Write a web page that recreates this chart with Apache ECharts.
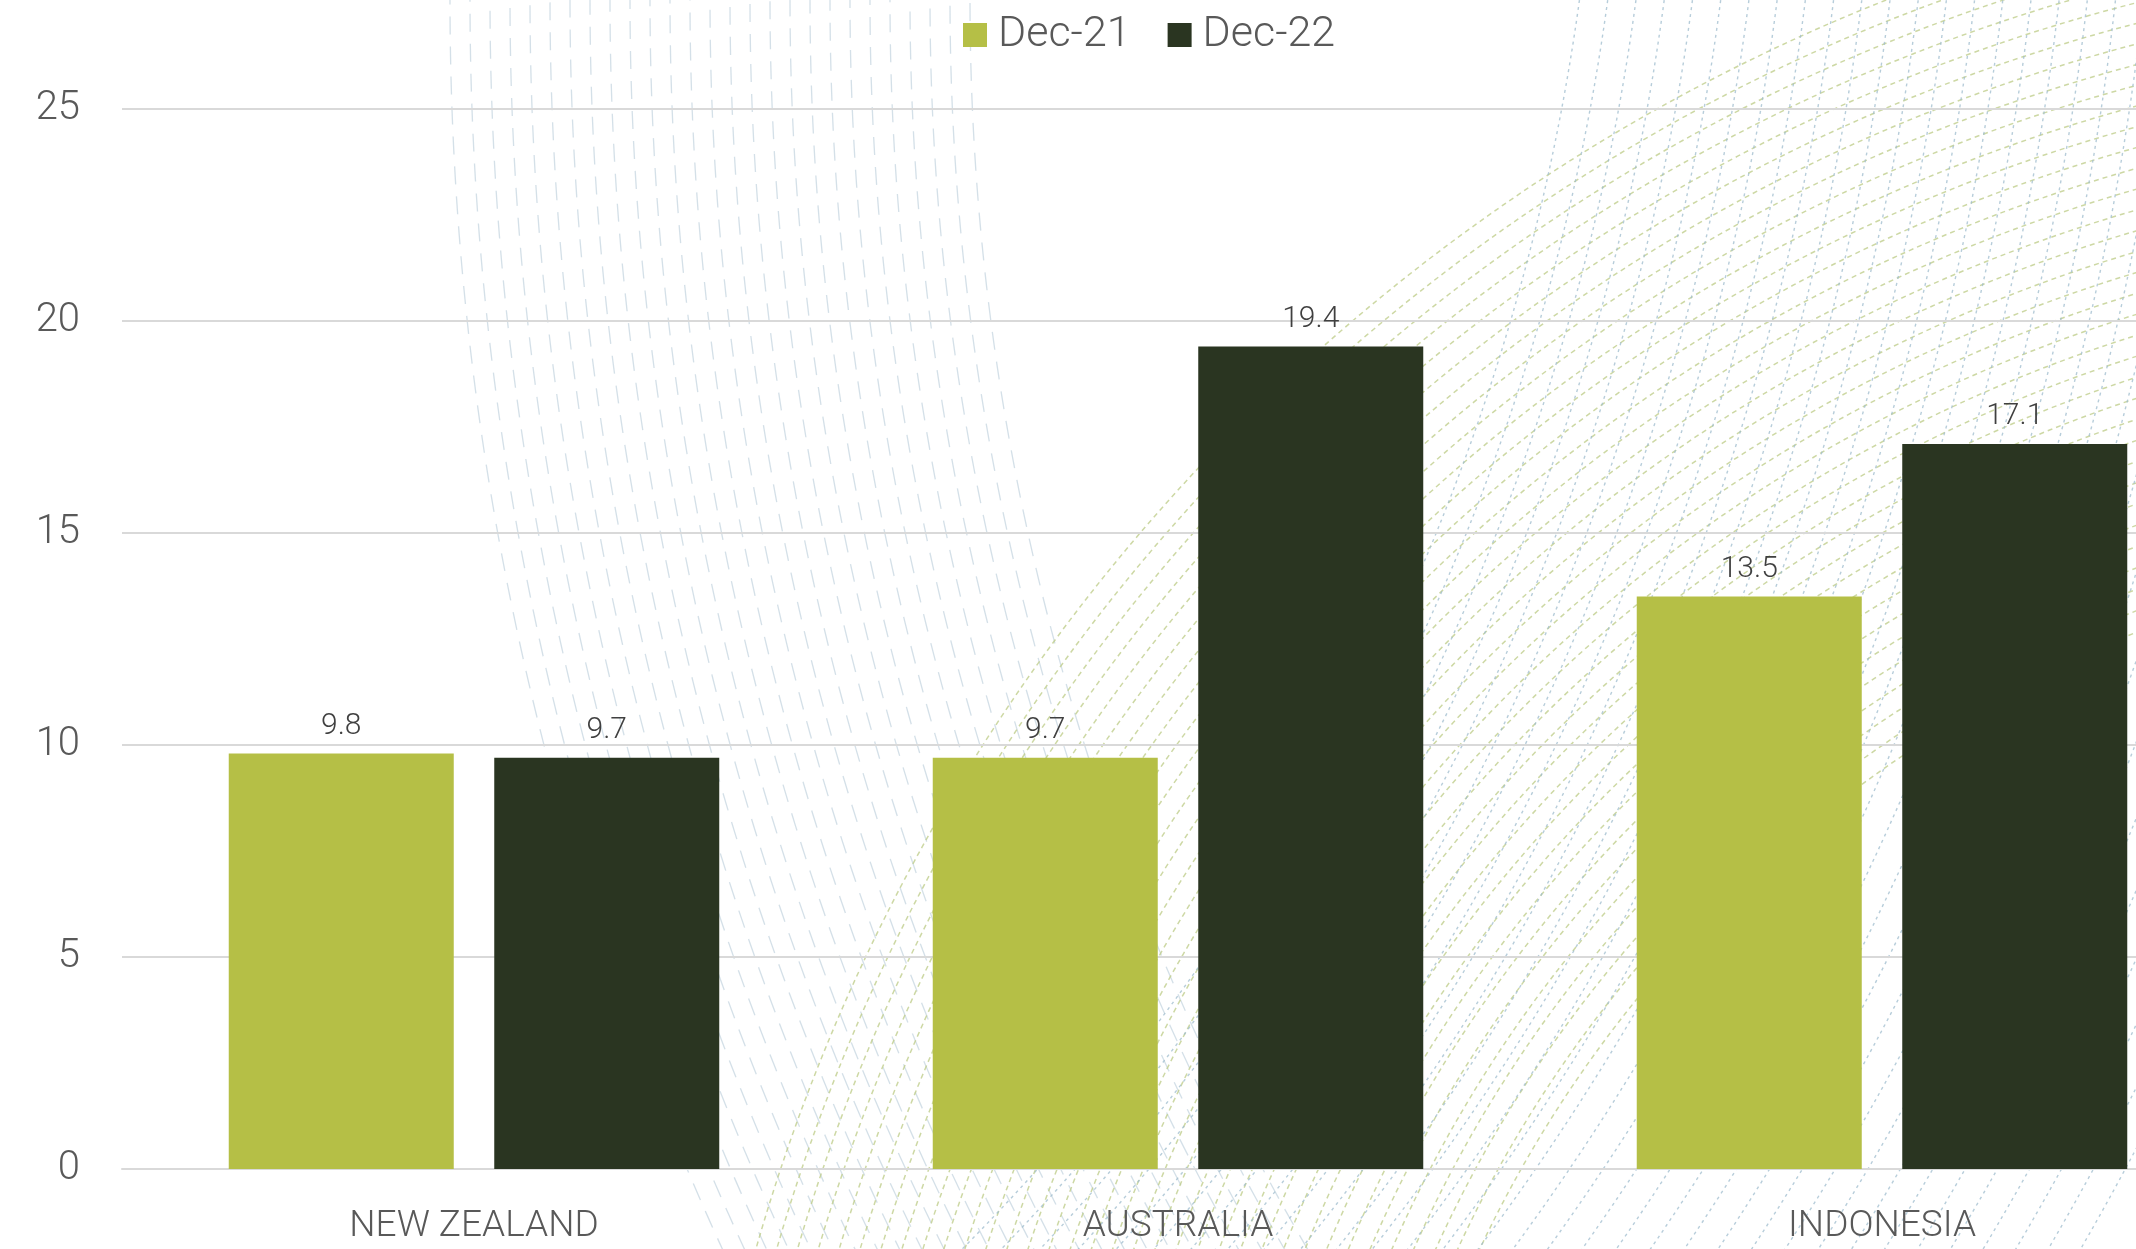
<!DOCTYPE html>
<html>
<head>
<meta charset="utf-8">
<script src="https://cdn.jsdelivr.net/npm/echarts@6/dist/echarts.min.js"></script>
<style>
html,body{margin:0;padding:0;background:#fff;overflow:hidden;width:2136px;height:1249px;}
#chart{width:2234px;height:1249px;}
</style>
</head>
<body>
<div id="chart"></div>
<script>
// ---- data ----
const categories = ['NEW ZEALAND', 'AUSTRALIA', 'INDONESIA'];
const seriesNames = ['Dec-21', 'Dec-22'];
const dec21 = [9.8, 9.7, 13.5];
const dec22 = [9.7, 19.4, 17.1];
const yMin = 0, yMax = 25, yStep = 5;

// ---- styling ----
const FONT = 'Roboto, "Liberation Sans", sans-serif';
const colors = ['#b5bf46', '#2a3521'];

// ---- decorative background (concentric dashed arcs) ----
function arcFamily(cx, cy, r0, r1, step, stroke, dash, opacity, width) {
  const out = [];
  for (let r = r0; r <= r1; r += step) {
    out.push({
      type: 'circle', silent: true,
      shape: { cx: cx, cy: cy, r: r },
      style: { fill: null, stroke: stroke, lineWidth: width, lineDash: dash, opacity: opacity }
    });
  }
  return out;
}
const deco = []
  .concat(arcFamily(3450, 0, 2480, 3000, 20, '#a9c2d1', [18, 12], 0.5, 1.3))
  .concat(arcFamily(2588, 1771, 1225, 1907, 20, '#bccb85', [5, 4], 0.75, 1.5))
  .concat(arcFamily(-600, -300, 2200, 3100, 28, '#9fbccd', [3, 4], 0.75, 1.4));

const chart = echarts.init(document.getElementById('chart'), null, { renderer: 'canvas' });
chart.setOption({
  backgroundColor: '#ffffff',
  animation: false,
  graphic: [{ type: 'group', silent: true, z: -10, zlevel: 0, children: deco }],
  legend: {
    data: seriesNames,
    left: 963, top: 12, padding: 0,
    itemWidth: 24, itemHeight: 24, itemGap: 37,
    icon: 'rect',
    textStyle: { fontFamily: FONT, fontWeight: 300, fontSize: 43, color: '#595959', padding: [0, 0, 0, 6], lineHeight: 46 }
  },
  grid: { left: 122, top: 109, right: 0, bottom: 80, containLabel: false },
  xAxis: {
    type: 'category',
    data: categories,
    axisLine: { show: true, lineStyle: { color: '#d9d9d9', width: 2 } },
    axisTick: { show: false },
    axisLabel: { fontFamily: FONT, fontWeight: 300, fontSize: 37, color: '#595959', margin: 39 }
  },
  yAxis: {
    type: 'value',
    min: yMin, max: yMax, interval: yStep,
    axisLine: { show: false },
    axisTick: { show: false },
    splitLine: { lineStyle: { color: '#d9d9d9', width: 2 } },
    axisLabel: { fontFamily: FONT, fontWeight: 300, fontSize: 40, color: '#595959', margin: 42 }
  },
  series: [
    {
      name: seriesNames[0], type: 'bar', data: dec21,
      barWidth: 225, barGap: '18%',
      itemStyle: { color: colors[0] },
      label: { show: true, position: 'top', distance: 12, fontFamily: FONT, fontWeight: 300, fontSize: 30, color: '#404040' }
    },
    {
      name: seriesNames[1], type: 'bar', data: dec22,
      barWidth: 225, barGap: '18%',
      itemStyle: { color: colors[1] },
      label: { show: true, position: 'top', distance: 12, fontFamily: FONT, fontWeight: 300, fontSize: 30, color: '#404040' }
    }
  ]
});
</script>
</body>
</html>
